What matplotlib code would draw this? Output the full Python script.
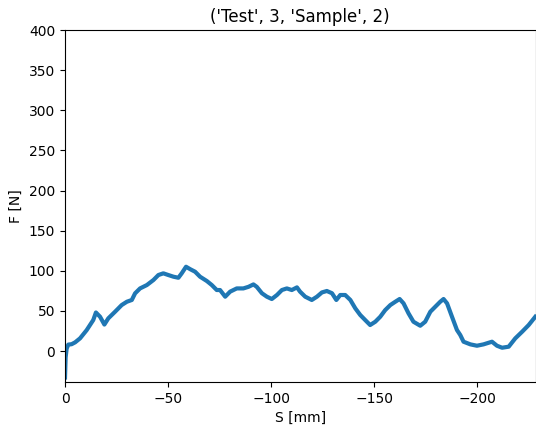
import matplotlib
matplotlib.use("Agg")
import matplotlib.pyplot as plt

# Valores (S en mm, F en N)
s_mm = [0.0, -0.3, -0.8, -1.6, -3.2, -4.9, -7.3, -10.5, -13.7, -15.0, -17.0,
        -19.1, -21.0, -24.3, -27.5, -30.0, -32.4, -34.0, -36.4, -39.7, -42.9,
        -45.3, -47.7, -50.1, -52.6, -55.0, -56.6, -58.7, -60.7, -63.1, -65.5,
        -68.8, -71.2, -73.6, -75.2, -77.7, -80.1, -83.3, -86.5, -89.0, -91.4,
        -93.0, -95.5, -97.9, -100.3, -102.8, -105.2, -107.6, -110.0, -112.5,
        -114.0, -116.5, -119.7, -122.2, -124.6, -127.0, -129.5, -131.6, -133.5,
        -135.9, -138.4, -140.8, -143.2, -145.6, -148.0, -150.5, -152.9, -155.3,
        -157.8, -160.2, -162.3, -164.2, -166.6, -169.0, -172.3, -174.7, -177.2,
        -179.6, -182.0, -183.6, -185.3, -187.7, -190.1, -191.7, -193.3, -196.6,
        -199.8, -203.0, -207.1, -209.5, -212.0, -215.2, -218.4, -221.7, -224.9,
        -228.1]
f_n = [-33.0, -8.0, 3.0, 8.0, 8.5, 10.8, 15.8, 26.0, 38.6, 48.0, 42.7,
       33.0, 40.7, 49.0, 57.3, 61.4, 63.6, 71.9, 78.0, 82.2, 88.5,
       94.7, 96.8, 94.7, 92.6, 91.3, 96.8, 105.0, 102.0, 98.8, 92.6,
       87.2, 82.2, 76.0, 76.0, 67.7, 74.0, 78.0, 78.0, 80.0, 83.0,
       80.0, 72.0, 67.7, 64.8, 69.8, 76.0, 78.0, 76.0, 79.3,
       74.0, 67.7, 63.6, 67.7, 73.0, 74.8, 72.0, 63.6, 69.8,
       69.8, 63.6, 53.2, 44.9, 38.6, 32.4, 36.5, 42.7, 51.0,
       57.3, 61.4, 64.8, 59.4, 47.0, 36.5, 31.5, 36.5, 49.0,
       55.2, 61.4, 64.8, 59.4, 42.7, 26.2, 20.0, 11.6, 8.3,
       6.6, 8.3, 11.6, 6.6, 4.1, 5.4, 15.8, 24.0, 32.4,
       42.7]

titulo = "('Test', 3, 'Sample', 2)"


def dibujar():
    fig = plt.figure(figsize=(5.36, 4.28), dpi=100)
    ax = fig.add_axes([65 / 536, 1 - 382 / 428, 470.5 / 536, 352 / 428])
    ax.plot(s_mm, f_n, color='#1f77b4', linewidth=3.0)
    ax.set_xlim(0, -228.2)
    ax.set_ylim(-38.6, 400)
    ax.set_yticks(range(0, 401, 50))
    ax.set_xticks([0, -50, -100, -150, -200])
    ax.set_title(titulo, fontsize=12)
    ax.set_xlabel('S [mm]')
    ax.set_ylabel('F [N]')
    fig.savefig('out.png', dpi=100)
    plt.close(fig)


if __name__ == "__main__":
    dibujar()
